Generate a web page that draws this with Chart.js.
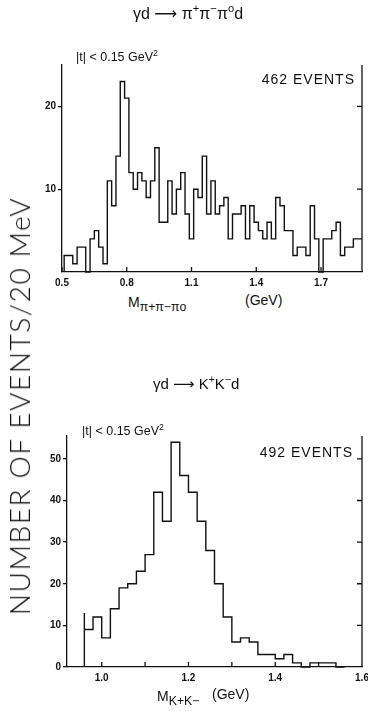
<!DOCTYPE html>
<html>
<head>
<meta charset="utf-8">
<script src="https://cdn.jsdelivr.net/npm/chart.js@4.4.1/dist/chart.umd.min.js"></script>
<style>
body { margin: 0; background: #fff; }
#wrap { position: relative; width: 368px; height: 711px; overflow: hidden; font-family: "Liberation Sans", Arial, sans-serif; color: #111; }
canvas { position: absolute; left: 0; }
.t { position: absolute; white-space: nowrap; transform: translate(0, -50%); }
.t sup { font-size: 70%; line-height: 0; }
.t sub { font-size: 88%; line-height: 0; }
.arr { font-family: "DejaVu Sans", sans-serif; }
#ylab { position: absolute; left: 19px; top: 406px; white-space: nowrap; font-family: "Lato", "Liberation Sans", sans-serif; font-weight: 300; font-size: 28px; letter-spacing: 1.6px; transform: translate(-50%, -50%) rotate(-90deg); }
</style>
</head>
<body>
<div id="wrap">
  <canvas id="chart1" width="368" height="292" style="top:0"></canvas>
  <canvas id="chart2" width="368" height="331" style="top:380px"></canvas>

  <div class="t" style="left:133px; top:13px; font-size:16px;">&gamma;d <span class="arr">&#x27F6;</span> &pi;<sup>+</sup>&pi;<sup>&minus;</sup>&pi;<sup>o</sup>d</div>
  <div class="t" style="left:76px; top:57px; font-size:12.5px;">|t| &lt; 0.15 GeV<sup>2</sup></div>
  <div class="t" style="right:13px; top:79px; font-size:14px; letter-spacing:1px;">462 EVENTS</div>
  <div class="t" style="left:128px; top:302px; font-size:14px;">M<sub>&pi;+&pi;&minus;&pi;o</sub></div>
  <div class="t" style="left:245px; top:300px; font-size:14px;">(GeV)</div>

  <div class="t" style="left:153px; top:384px; font-size:15px;">&gamma;d <span class="arr">&#x27F6;</span> K<sup>+</sup>K<sup>&minus;</sup>d</div>
  <div class="t" style="left:82px; top:431px; font-size:12.5px;">|t| &lt; 0.15 GeV<sup>2</sup></div>
  <div class="t" style="right:15px; top:452px; font-size:14px; letter-spacing:1px;">492 EVENTS</div>
  <div class="t" style="left:157px; top:696px; font-size:14px;">M<sub>K+K&minus;</sub></div>
  <div class="t" style="left:212px; top:694px; font-size:14px;">(GeV)</div>

  <div id="ylab">NUMBER OF EVENTS/20 MeV</div>
</div>

<script>
// gamma d -> pi+ pi- pi0 d, counts per 20 MeV bin
var pipiStart = 0.51;
var binWidth = 0.02;
var pipiCounts = [0, 2, 2, 1, 3, 3, 0, 4, 5, 3, 1,
                  11, 8, 14, 23, 21,
                  12, 10, 12, 11, 9, 11, 15,
                  6, 6, 11, 7, 10, 12, 7, 4, 10, 9,
                  14, 7, 11, 7, 8, 9, 4,
                  7, 7, 8, 4, 8, 6, 5, 4, 6, 4,
                  9, 8, 5, 5, 2, 3, 3, 2, 8, 4,
                  0, 4, 4, 5, 6, 2, 3, 3, 4];
var pipiXTicks = [0.5, 0.8, 1.1, 1.4, 1.7];
var pipiYTicks = [10, 20];

// gamma d -> K+ K- d
var kkStart = 0.96;
var kkCounts = [13, 9, 12, 7, 14, 19, 20, 23, 27, 42, 35, 54, 46, 42, 35,
                28, 20, 12, 6, 7, 6, 3, 3, 2, 3, 1, 0, 1, 1, 1];
var kkXTicks = [1.0, 1.1, 1.2, 1.3, 1.4, 1.5, 1.6];
var kkYTicks = [0, 10, 20, 30, 40, 50];

var ink = '#111';
var tickFont = { family: 'Liberation Sans', size: 10, weight: 'bold' };

function steps(start, width, counts, dropAtEnd) {
  var pts = [{ x: start, y: 0 }];
  counts.forEach(function(c, i) {
    pts.push({ x: start + i * width, y: c });
  });
  pts.push({ x: start + counts.length * width, y: dropAtEnd ? 0 : counts[counts.length - 1] });
  return pts;
}

// right axis, inward ticks on right and bottom
var frame = {
  id: 'frame',
  afterDraw: function(chart) {
    var ctx = chart.ctx, a = chart.chartArea;
    var xs = chart.scales.x, ys = chart.scales.y;
    ctx.save();
    ctx.strokeStyle = ink;
    ctx.lineWidth = 1.3;
    ctx.beginPath();
    ctx.moveTo(a.right, a.top);
    ctx.lineTo(a.right, a.bottom);
    ys.ticks.forEach(function(t) {
      if (t.value <= 0) return;
      var py = ys.getPixelForValue(t.value);
      ctx.moveTo(a.right, py);
      ctx.lineTo(a.right - 5, py);
    });
    xs.ticks.forEach(function(t) {
      var px = xs.getPixelForValue(t.value);
      ctx.moveTo(px, a.bottom);
      ctx.lineTo(px, a.bottom - 5);
    });
    ctx.stroke();
    ctx.restore();
  }
};

function makeChart(id, points, xmin, xmax, ymax, xTicks, yTicks, xLabel, pad) {
  var ctx = document.getElementById(id).getContext('2d');
  return new Chart(ctx, {
    type: 'line',
    data: {
      datasets: [{
        data: points,
        stepped: 'after',
        borderColor: ink,
        borderWidth: 1.4,
        pointRadius: 0,
        fill: false,
        clip: 3
      }]
    },
    options: {
      responsive: false,
      animation: false,
      devicePixelRatio: 1,
      layout: { padding: pad },
      plugins: { legend: { display: false }, tooltip: { enabled: false } },
      scales: {
        x: {
          type: 'linear',
          min: xmin,
          max: xmax,
          afterBuildTicks: function(s) { s.ticks = xTicks.map(function(v) { return { value: v }; }); },
          afterFit: function(s) { s.height = 20; s.paddingLeft = 0; s.paddingRight = 0; },
          grid: { display: false, drawTicks: false },
          border: { display: true, color: ink, width: 1.3 },
          ticks: { color: ink, font: tickFont, padding: 5, maxRotation: 0, autoSkip: false,
                   callback: function(v) { return xLabel(v); } }
        },
        y: {
          min: 0,
          max: ymax,
          afterBuildTicks: function(s) { s.ticks = yTicks.map(function(v) { return { value: v }; }); },
          afterFit: function(s) { s.width = 40; },
          grid: { display: true, drawOnChartArea: false, drawTicks: true, tickLength: 4, color: ink, lineWidth: 1.3 },
          border: { display: true, color: ink, width: 1.3 },
          ticks: { color: ink, font: tickFont, padding: 2 }
        }
      }
    },
    plugins: [frame]
  });
}

makeChart('chart1', steps(pipiStart, binWidth, pipiCounts, false), 0.5, 1.89, 25,
  pipiXTicks, pipiYTicks,
  function(v) { return v.toFixed(1); },
  { left: 22, top: 65, right: 6, bottom: 0 });

makeChart('chart2', steps(kkStart, binWidth, kkCounts, true), 0.92, 1.6, 55.5,
  kkXTicks, kkYTicks,
  function(v) { return Math.round(v * 10) % 2 === 0 ? v.toFixed(1) : ''; },
  { left: 27, top: 56, right: 6, bottom: 24 });
</script>
</body>
</html>
